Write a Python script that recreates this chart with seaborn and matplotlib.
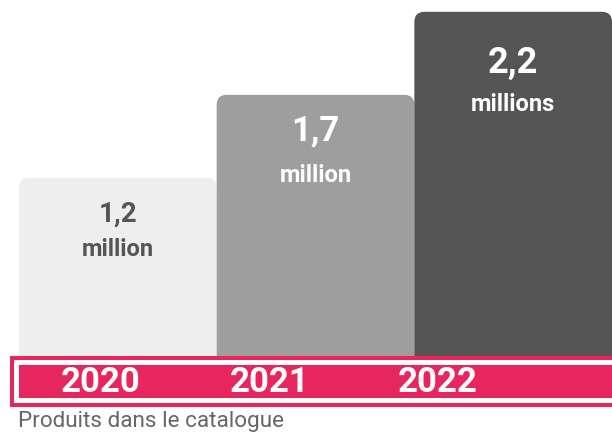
import matplotlib
matplotlib.use('Agg')
import matplotlib.pyplot as plt
import seaborn as sns
from matplotlib.patches import FancyBboxPatch, Rectangle

# data
years = ['2020', '2021', '2022']
values = [1.2, 1.7, 2.2]
value_labels = ['1,2', '1,7', '2,2']
unit_labels = ['million', 'million', 'millions']
caption = 'Produits dans le catalogue'

bar_colors = ['#eeeeee', '#9e9e9e', '#555555']
text_colors = ['#555555', '#ffffff', '#ffffff']
value_sizes = [20, 25, 26]
# label offsets below the bar top, in points (value line, unit line)
value_offsets = [26.5, 26, 36.5]
unit_offsets = [51.5, 58, 66.5]
pink = '#e8265e'

W, H = 612, 434


def main():
    sns.set_theme(style='white')
    plt.rcParams['font.family'] = ['Roboto', 'DejaVu Sans']

    fig = plt.figure(figsize=(W / 100, H / 100), dpi=100)
    fig.patch.set_facecolor('white')

    # main bar axes: zero line sits under the pink band
    ax = fig.add_axes([19 / W, 1 - 377 / H, (W - 19) / W, 377 / H])
    sns.barplot(x=years, y=values, hue=years, palette=bar_colors, legend=False,
                width=1.0, saturation=1, ax=ax)
    ax.set_xlim(-0.5, 2.5)
    ymax = 377 / 166
    ax.set_ylim(0, ymax)
    ax.axis('off')

    # swap square bars for rounded ones
    px_x = 3 / (W - 19)
    px_y = ymax / 377
    for p in list(ax.patches):
        x, y = p.get_x(), p.get_y()
        w, h = p.get_width(), p.get_height()
        rb = FancyBboxPatch((x, y), w, h,
                            boxstyle=f'round,pad=0,rounding_size={10 * px_x}',
                            mutation_aspect=px_y / px_x,
                            facecolor=p.get_facecolor(), edgecolor='none')
        p.remove()
        ax.add_patch(rb)

    # labels inside bars
    for i, v in enumerate(values):
        ax.annotate(value_labels[i], (i, v), xytext=(0, -value_offsets[i]),
                    textcoords='offset points', ha='center', va='center',
                    fontsize=value_sizes[i], fontweight='bold', color=text_colors[i])
        ax.annotate(unit_labels[i], (i, v), xytext=(0, -unit_offsets[i]),
                    textcoords='offset points', ha='center', va='center',
                    fontsize=17, fontweight='bold', color=text_colors[i])

    # pink band with outline
    fig.patches.append(Rectangle((12 / W, 1 - 405 / H), (W + 20) / W, 47 / H,
                                 transform=fig.transFigure, facecolor='white',
                                 edgecolor=pink, linewidth=2.9, zorder=2))
    fig.patches.append(Rectangle((19 / W, 1 - 398 / H), (W) / W, 33 / H,
                                 transform=fig.transFigure, facecolor=pink,
                                 edgecolor='none', zorder=3))

    band = fig.add_axes([19 / W, 1 - 398 / H, (W - 19) / W, 33 / H], zorder=5)
    band.set_xlim(-82 / 168.5, 2 + 174 / 168.5)
    band.set_ylim(0, 1)
    band.axis('off')
    for i, yr in enumerate(years):
        band.text(i, 0.47, yr, ha='center', va='center', fontsize=25,
                  fontweight='bold', color='white')

    fig.text(18 / W, 1 - 422 / H, caption, ha='left', va='center', fontsize=16.2,
             fontweight='normal', color='#666666')

    fig.savefig('out.png', dpi=100, facecolor='white')
    plt.close(fig)


if __name__ == '__main__':
    main()
